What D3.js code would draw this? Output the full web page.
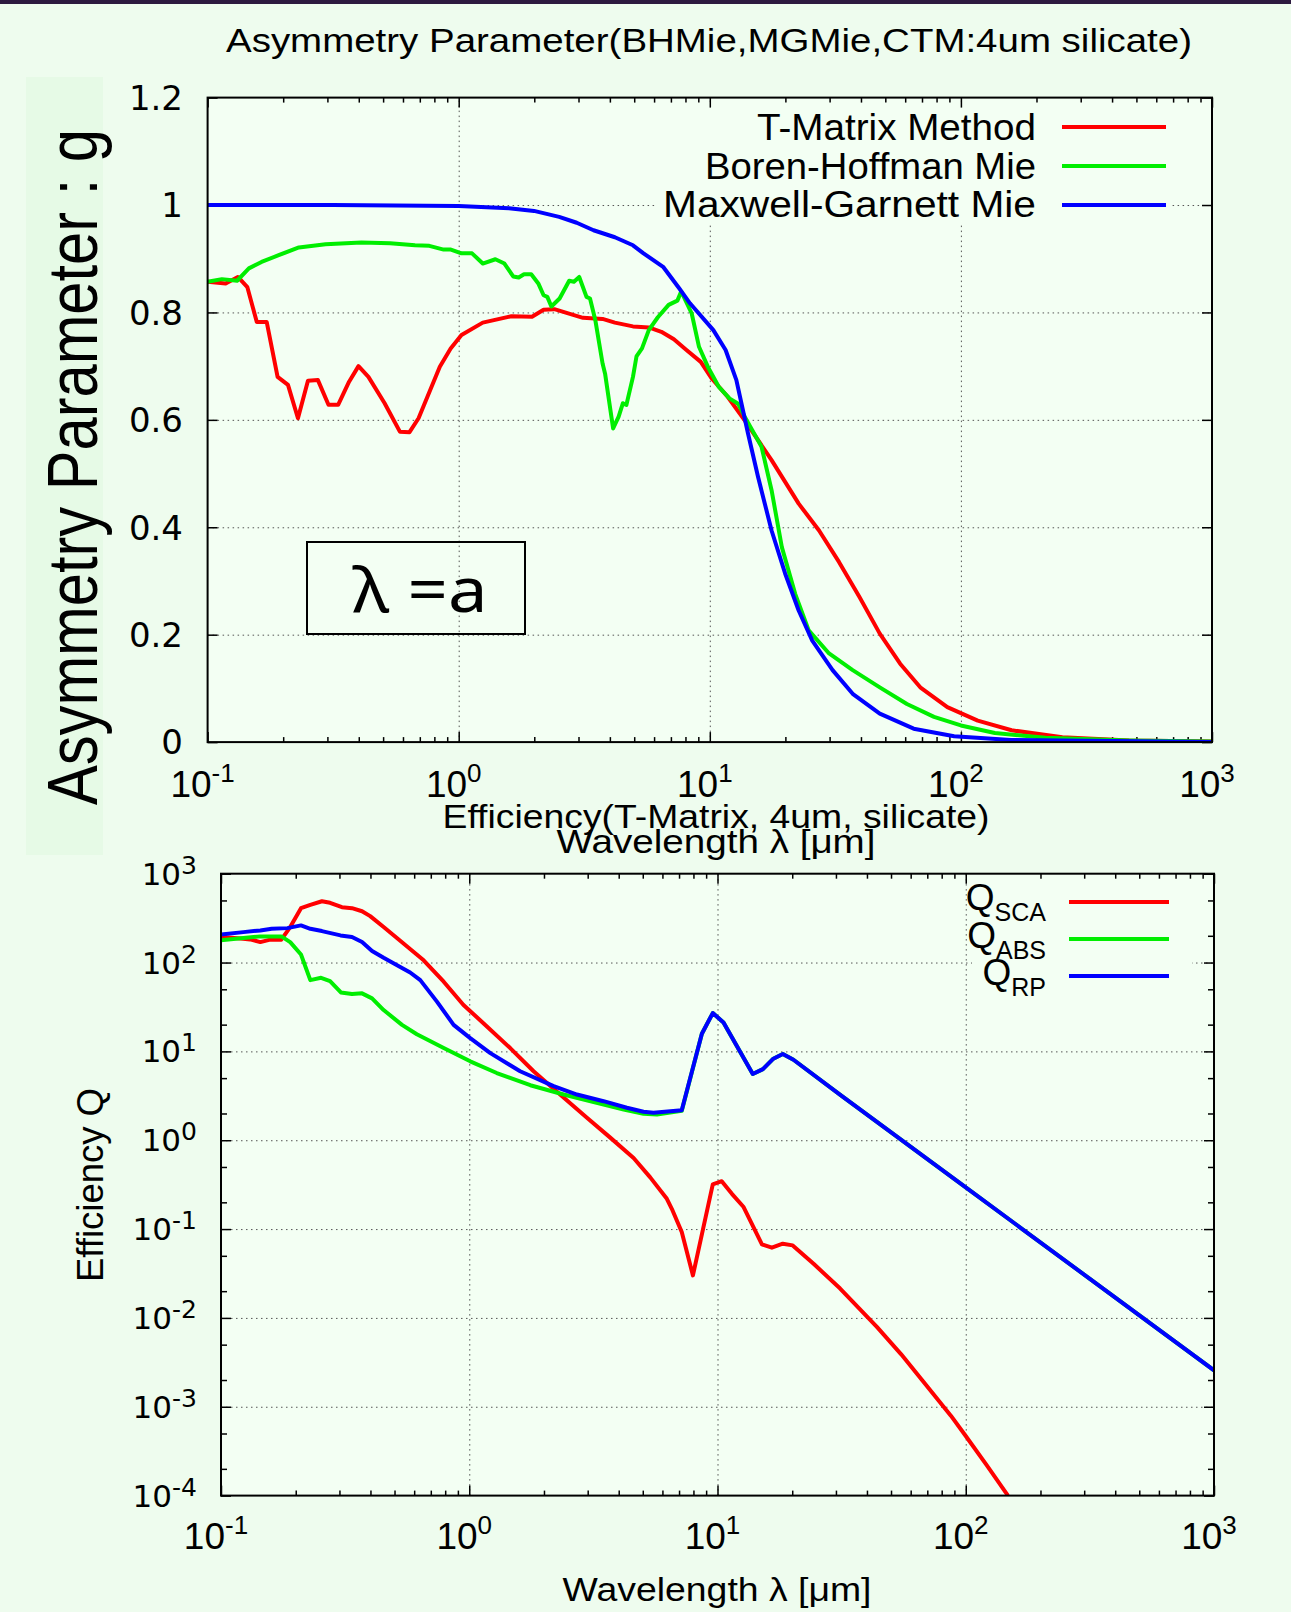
<!DOCTYPE html>
<html>
<head>
<meta charset="utf-8">
<script src="https://cdn.jsdelivr.net/npm/d3@7"></script>
<style>
body { margin: 0; background: #eefcee; }
svg { display: block; }
text { font-family: "Liberation Sans", Arial, sans-serif; fill: #000; }
.num { font-family: "DejaVu Sans", sans-serif; }
.grid line { stroke: #555; stroke-width: 1; stroke-dasharray: 1.5,3.5; }
.grid path, .ticks path { display: none; }
.ticks line { stroke: #000; stroke-width: 1.5; }
</style>
</head>
<body>
<svg id="chart" width="1291" height="1612"></svg>
<script>
// ---- Asymmetry parameter g (top panel), wavelength in um ----
const tmLambda = [0.100, 0.118, 0.132, 0.144, 0.157, 0.172, 0.190, 0.209, 0.229, 0.251, 0.275, 0.303, 0.331, 0.366, 0.399, 0.437, 0.507, 0.583, 0.637, 0.692, 0.841, 0.929, 1.026, 1.247, 1.622, 1.959, 2.178, 2.404, 2.649, 3.126, 3.741, 4.188, 4.943, 5.715, 6.412, 7.194, 8.072, 9.204, 10.14, 11.78, 13.77, 17.62, 22.59, 27.23, 32.73, 39.45, 47.53, 57.28, 68.87, 88.31, 116.7, 159.2, 253.5, 467.7, 1000];
const tmG = [0.857, 0.854, 0.866, 0.847, 0.782, 0.782, 0.680, 0.665, 0.603, 0.673, 0.674, 0.628, 0.628, 0.671, 0.700, 0.680, 0.631, 0.578, 0.577, 0.603, 0.699, 0.733, 0.758, 0.781, 0.793, 0.792, 0.805, 0.806, 0.800, 0.790, 0.788, 0.781, 0.774, 0.772, 0.764, 0.750, 0.730, 0.708, 0.678, 0.643, 0.599, 0.525, 0.444, 0.394, 0.335, 0.270, 0.202, 0.146, 0.102, 0.065, 0.040, 0.022, 0.009, 0.003, 0.001];

const bhLambda = [0.100, 0.114, 0.131, 0.146, 0.164, 0.193, 0.231, 0.295, 0.410, 0.533, 0.670, 0.764, 0.871, 0.931, 1.026, 1.130, 1.247, 1.400, 1.521, 1.648, 1.734, 1.820, 1.945, 2.075, 2.178, 2.254, 2.339, 2.523, 2.754, 2.877, 3.020, 3.228, 3.334, 3.499, 3.741, 3.828, 4.121, 4.335, 4.508, 4.656, 4.943, 5.105, 5.370, 5.715, 6.209, 6.855, 7.430, 7.691, 8.472, 9.057, 9.817, 10.84, 11.97, 12.97, 13.77, 16.07, 17.62, 19.36, 21.88, 24.77, 29.85, 37.07, 47.53, 60.95, 78.16, 100, 136.5, 217.3, 467.7, 1000];
const bhG = [0.857, 0.862, 0.859, 0.882, 0.894, 0.907, 0.921, 0.927, 0.930, 0.929, 0.925, 0.924, 0.917, 0.917, 0.910, 0.910, 0.891, 0.899, 0.891, 0.867, 0.865, 0.871, 0.871, 0.854, 0.832, 0.829, 0.811, 0.826, 0.859, 0.857, 0.866, 0.829, 0.826, 0.786, 0.705, 0.686, 0.584, 0.606, 0.631, 0.628, 0.680, 0.718, 0.733, 0.767, 0.791, 0.814, 0.822, 0.839, 0.798, 0.736, 0.699, 0.662, 0.640, 0.630, 0.606, 0.550, 0.469, 0.363, 0.276, 0.208, 0.165, 0.134, 0.102, 0.071, 0.047, 0.031, 0.017, 0.008, 0.003, 0.001];

const mgLambda = [0.100, 0.316, 1.000, 1.585, 1.995, 2.512, 2.951, 3.443, 4.188, 4.943, 5.445, 6.516, 7.551, 8.337, 10.33, 11.56, 12.76, 14.19, 15.56, 17.62, 19.95, 22.59, 25.59, 30.83, 37.07, 47.53, 64.86, 93.97, 158.5, 1000];
const mgG = [1.000, 1.000, 0.998, 0.994, 0.989, 0.978, 0.967, 0.953, 0.940, 0.925, 0.910, 0.885, 0.845, 0.817, 0.767, 0.730, 0.674, 0.575, 0.494, 0.394, 0.314, 0.245, 0.189, 0.134, 0.090, 0.053, 0.025, 0.011, 0.004, 0.000];

// ---- Efficiencies (bottom panel) ----
const scaLambda = [0.100, 0.120, 0.131, 0.144, 0.158, 0.175, 0.190, 0.210, 0.229, 0.255, 0.275, 0.307, 0.337, 0.370, 0.399, 0.452, 0.545, 0.655, 0.789, 0.948, 1.178, 1.462, 1.816, 2.323, 2.979, 3.698, 4.592, 5.358, 6.252, 6.546, 7.178, 7.962, 9.572, 10.40, 11.43, 12.74, 15.10, 16.56, 18.32, 20.09, 24.38, 31.19, 43.85, 54.95, 68.55, 87.10, 100, 121.6, 147.9];
const scaQ = [194, 186, 182, 170, 181, 181, 251, 409, 446, 490, 470, 420, 409, 378, 333, 251, 163, 106, 60.8, 33.3, 19.1, 10.9, 5.97, 3.27, 1.79, 1.07, 0.630, 0.382, 0.219, 0.169, 0.0925, 0.0301, 0.318, 0.346, 0.249, 0.177, 0.0673, 0.0617, 0.0684, 0.0655, 0.0407, 0.0214, 0.00793, 0.00389, 0.00182, 0.000794, 0.000468, 0.000219, 0.0001];

const absLambda = [0.100, 0.123, 0.144, 0.175, 0.190, 0.210, 0.229, 0.253, 0.275, 0.304, 0.337, 0.370, 0.406, 0.452, 0.536, 0.615, 0.789, 1.009, 1.291, 1.762, 2.399, 3.170, 4.188, 5.035, 5.702, 7.178, 8.650, 9.572, 10.57, 13.87, 15.24, 16.71, 18.32, 20.23, 31.62, 100, 316.2, 1000];
const absQ = [178, 189, 197, 197, 170, 123, 63.4, 67.3, 61.8, 46.1, 44.3, 45.0, 39.5, 29.2, 19.9, 15.6, 10.9, 7.73, 5.71, 4.16, 3.27, 2.69, 2.22, 1.99, 1.95, 2.14, 15.8, 27.0, 21.2, 5.56, 6.32, 8.20, 9.33, 8.05, 3.16, 0.295, 0.0275, 0.00257];

const rpLambda = [0.100, 0.123, 0.144, 0.160, 0.185, 0.210, 0.229, 0.255, 0.303, 0.337, 0.370, 0.406, 0.452, 0.512, 0.578, 0.635, 0.741, 0.865, 1.009, 1.216, 1.603, 2.188, 2.716, 3.475, 4.315, 5.035, 5.521, 7.178, 8.650, 9.572, 10.57, 13.87, 15.24, 16.71, 18.32, 20.23, 31.62, 100, 316.2, 1000];
const rpQ = [207, 220, 230, 240, 244, 262, 240, 226, 202, 194, 170, 135, 113, 93.3, 77.3, 63.4, 36.3, 19.9, 14.1, 9.57, 5.97, 4.06, 3.27, 2.75, 2.32, 2.09, 2.04, 2.17, 15.8, 27.0, 21.2, 5.56, 6.32, 8.20, 9.33, 8.05, 3.16, 0.295, 0.0275, 0.00257];

const xDecades = [0.1, 1, 10, 100, 1000];
const xExp = ["-1", "0", "1", "2", "3"];
const gTicks = [0, 0.2, 0.4, 0.6, 0.8, 1, 1.2];
const qDecades = [1e-4, 1e-3, 1e-2, 1e-1, 1, 10, 100, 1000];
const qExp = ["-4", "-3", "-2", "-1", "0", "1", "2", "3"];

const topLegend = ["T-Matrix Method", "Boren-Hoffman Mie", "Maxwell-Garnett Mie"];
const topLegendWidth = [279, 331, 373];
const botLegend = ["SCA", "ABS", "RP"];
const colors = ["#ff0000", "#00ee00", "#0000ff"];

const svg = d3.select("#chart");
const plotBg = "#f3fff3";

svg.append("rect").attr("x", 0).attr("y", 0).attr("width", 1291).attr("height", 4).attr("fill", "#2d1a3f");
svg.append("rect").attr("x", 26).attr("y", 77).attr("width", 77).attr("height", 778).attr("fill", "#e6fae6");

// minor tick positions on a log axis
function logMinors(lo, hi, ks) {
    const out = [];
    for (let d = lo; d < hi; d *= 10) ks.forEach(k => out.push(d * k));
    return out;
}

function panel(opt) {
    const { x, y, left, right, top, bottom } = opt;
    const w = right - left, h = bottom - top;
    const g = svg.append("g");

    g.append("rect").attr("x", left).attr("y", top).attr("width", w).attr("height", h).attr("fill", plotBg);

    // grid
    g.append("g").attr("class", "grid").attr("transform", `translate(0,${bottom})`)
        .call(d3.axisBottom(x).tickValues(opt.xGrid).tickSize(-h).tickFormat(""));
    g.append("g").attr("class", "grid").attr("transform", `translate(${left},0)`)
        .call(d3.axisLeft(y).tickValues(opt.yGrid).tickSize(-w).tickFormat(""));

    // legend boxes (opaque)
    g.append("rect").attr("x", opt.legBox[0]).attr("y", opt.legBox[1])
        .attr("width", opt.legBox[2]).attr("height", opt.legBox[3]).attr("fill", plotBg);

    // ticks, inward on all four sides
    const tk = (axis, tr) => g.append("g").attr("class", "ticks").attr("transform", tr).call(axis);
    tk(d3.axisBottom(x).tickValues(xDecades).tickSize(-10).tickFormat(""), `translate(0,${bottom})`);
    tk(d3.axisTop(x).tickValues(xDecades).tickSize(-10).tickFormat(""), `translate(0,${top})`);
    tk(d3.axisBottom(x).tickValues(logMinors(0.1, 1000, [2,3,4,5,6,7,8,9])).tickSize(-5).tickFormat(""), `translate(0,${bottom})`);
    tk(d3.axisTop(x).tickValues(logMinors(0.1, 1000, [2,3,4,5,6,7,8,9])).tickSize(-5).tickFormat(""), `translate(0,${top})`);
    tk(d3.axisLeft(y).tickValues(opt.yMajor).tickSize(-10).tickFormat(""), `translate(${left},0)`);
    tk(d3.axisRight(y).tickValues(opt.yMajor).tickSize(-10).tickFormat(""), `translate(${right},0)`);
    if (opt.yMinor) {
        tk(d3.axisLeft(y).tickValues(opt.yMinor).tickSize(-6).tickFormat(""), `translate(${left},0)`);
        tk(d3.axisRight(y).tickValues(opt.yMinor).tickSize(-6).tickFormat(""), `translate(${right},0)`);
    }

    // curves
    const clipId = opt.id + "-clip";
    svg.append("clipPath").attr("id", clipId).append("rect")
        .attr("x", left).attr("y", top).attr("width", w).attr("height", h);
    const line = d3.line().x(d => x(d[0])).y(d => y(d[1]));
    opt.series.forEach((s, i) => {
        g.append("path").datum(d3.zip(s[0], s[1]))
            .attr("clip-path", `url(#${clipId})`)
            .attr("fill", "none").attr("stroke", colors[i]).attr("stroke-width", 4)
            .attr("stroke-linejoin", "round").attr("d", line);
    });

    // frame
    g.append("rect").attr("x", left).attr("y", top).attr("width", w).attr("height", h)
        .attr("fill", "none").attr("stroke", "#000").attr("stroke-width", 2);

    // x tick labels 10^n
    const xl = g.selectAll(".xl").data(xDecades).enter().append("text")
        .attr("x", d => x(d) - 5).attr("y", opt.xLabelY).attr("text-anchor", "middle")
        .style("font-size", "37px");
    xl.append("tspan").text("10");
    xl.append("tspan").attr("dy", -15).style("font-size", "26px").text((d, i) => xExp[i]);
    return g;
}

// ---------------- top panel ----------------
const xTop = d3.scaleLog().domain([0.1, 1000]).range([207.6, 1212]);
const yTop = d3.scaleLinear().domain([0, 1.2]).range([742.1, 97.6]);
const gTop = panel({
    id: "top", x: xTop, y: yTop, left: 207.6, right: 1212, top: 97.6, bottom: 742.1,
    xGrid: [1, 10, 100], yGrid: [0.2, 0.4, 0.6, 0.8, 1.0], yMajor: gTicks,
    legBox: [655, 104, 517, 120], xLabelY: 797,
    series: [[tmLambda, tmG], [bhLambda, bhG], [mgLambda, mgG]]
});

gTop.selectAll(".yl").data(gTicks).enter().append("text")
    .attr("class", "num").attr("x", 183).attr("y", d => yTop(d)).attr("dy", "0.36em")
    .attr("text-anchor", "end").style("font-size", "34px").text(d => d3.format("")(d));

topLegend.forEach((t, i) => {
    gTop.append("text").attr("x", 1036).attr("y", 140 + i * 38.5).attr("text-anchor", "end")
        .attr("textLength", topLegendWidth[i]).attr("lengthAdjust", "spacingAndGlyphs")
        .style("font-size", "37px").text(t);
    gTop.append("line").attr("x1", 1062).attr("x2", 1166)
        .attr("y1", 127 + i * 39).attr("y2", 127 + i * 39)
        .attr("stroke", colors[i]).attr("stroke-width", 4);
});

gTop.append("rect").attr("x", 307).attr("y", 542).attr("width", 218).attr("height", 92)
    .attr("fill", "none").attr("stroke", "#000").attr("stroke-width", 2);
gTop.append("text").attr("x", 420).attr("y", 612).attr("text-anchor", "middle")
    .attr("textLength", 135).attr("lengthAdjust", "spacingAndGlyphs")
    .style("font-family", "'Noto Sans', sans-serif").style("font-size", "62px").text("λ =a");

svg.append("text").attr("x", 709).attr("y", 52).attr("text-anchor", "middle")
    .attr("textLength", 966).attr("lengthAdjust", "spacingAndGlyphs")
    .style("font-size", "34px").text("Asymmetry Parameter(BHMie,MGMie,CTM:4um silicate)");

svg.append("text").attr("transform", "translate(97,467) rotate(-90)").attr("text-anchor", "middle")
    .attr("textLength", 676).attr("lengthAdjust", "spacingAndGlyphs")
    .style("font-size", "70px").text("Asymmetry Parameter : g");

svg.append("text").attr("x", 716).attr("y", 853).attr("text-anchor", "middle")
    .attr("textLength", 319).attr("lengthAdjust", "spacingAndGlyphs")
    .style("font-size", "34px").text("Wavelength λ [μm]");
svg.append("text").attr("x", 716).attr("y", 828).attr("text-anchor", "middle")
    .attr("textLength", 547).attr("lengthAdjust", "spacingAndGlyphs")
    .style("font-size", "34px").text("Efficiency(T-Matrix, 4um, silicate)");

// ---------------- bottom panel ----------------
const xBot = d3.scaleLog().domain([0.1, 1000]).range([221, 1214]);
const yBot = d3.scaleLog().domain([1e-4, 1e3]).range([1495.6, 873.7]);
const gBot = panel({
    id: "bot", x: xBot, y: yBot, left: 221, right: 1214, top: 873.7, bottom: 1495.6,
    xGrid: [1, 10, 100], yGrid: qDecades.slice(1, -1), yMajor: qDecades,
    yMinor: logMinors(1e-4, 1e3, [2, 5]),
    legBox: [972, 876, 220, 122], xLabelY: 1549,
    series: [[scaLambda, scaQ], [absLambda, absQ], [rpLambda, rpQ]]
});

const yl = gBot.selectAll(".yl").data(qDecades).enter().append("text")
    .attr("class", "num").attr("x", 197).attr("y", d => yBot(d) + 11)
    .attr("text-anchor", "end").style("font-size", "31px");
yl.append("tspan").text("10");
yl.append("tspan").attr("dy", -11).style("font-size", "25px").text((d, i) => qExp[i]);

botLegend.forEach((t, i) => {
    const tx = gBot.append("text").attr("x", 1046).attr("y", 910 + i * 37.5).attr("text-anchor", "end")
        .style("font-size", "37px");
    tx.append("tspan").text("Q");
    tx.append("tspan").attr("dy", 11).style("font-size", "25px").text(t);
    gBot.append("line").attr("x1", 1069).attr("x2", 1169)
        .attr("y1", 902 + i * 37).attr("y2", 902 + i * 37)
        .attr("stroke", colors[i]).attr("stroke-width", 4);
});

svg.append("text").attr("transform", "translate(103,1185) rotate(-90)").attr("text-anchor", "middle")
    .attr("textLength", 194).attr("lengthAdjust", "spacingAndGlyphs")
    .style("font-size", "37px").text("Efficiency Q");

svg.append("text").attr("x", 717).attr("y", 1601).attr("text-anchor", "middle")
    .attr("textLength", 309).attr("lengthAdjust", "spacingAndGlyphs")
    .style("font-size", "34px").text("Wavelength λ [μm]");
</script>
</body>
</html>
